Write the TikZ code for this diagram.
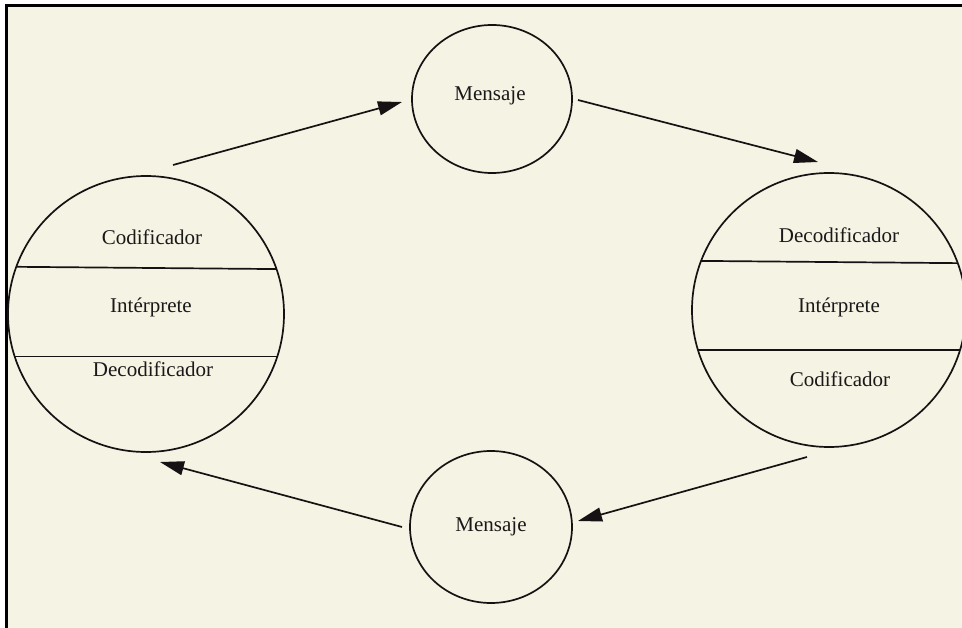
\documentclass[tikz,border=0pt]{standalone}
\usepackage{fontspec}
\setmainfont{Liberation Serif}
\usetikzlibrary{shapes.geometric,arrows.meta,calc}
\definecolor{paper}{RGB}{245,243,228}
\definecolor{ink}{RGB}{22,18,20}
\definecolor{type}{RGB}{26,24,24}
\begin{document}
\begin{tikzpicture}[x=1pt,y=-1pt,
  bubble/.style={draw=ink, line width=1.7pt, inner sep=0pt, outer sep=0pt},
  bigcircle/.style={bubble, circle, minimum size=#1},
  msgcircle/.style={bubble, ellipse, minimum width=#1},
  divider/.style={draw=ink, line width=1.7pt},
  word/.style={text=type, font=\fontsize{21}{25}\selectfont, inner sep=0pt, anchor=base},
  flow/.style={draw=ink, line width=1.7pt, -{Triangle[length=24pt,width=14pt]}}]
  % page
  \clip (0,0) rectangle (962,628);
  \fill[white] (0,0) rectangle (962,628);
  \fill[paper] (6,6) rectangle (962,628);
  \draw[black, line width=3pt] (6,629) -- (6,6) -- (963,6);

  % sender / receiver circles
  \node[bigcircle=276pt] (L) at (146,314) {};
  \node[bigcircle=274pt] (R) at (829,310) {};
  % message circles
  \node[msgcircle=160pt, minimum height=148pt] (M1) at (492,99) {};
  \node[msgcircle=162pt, minimum height=152pt] (M2) at (491,527) {};

  % dividers inside the large circles
  \draw[divider] (L.160.53) -- (L.19.47);
  \draw[divider] (L.198.16) -- (L.-18.16);
  \draw[divider] (R.159.49) -- (R.20.51);
  \draw[divider] (R.197.41) -- (R.-17.41);

  % texts
  \node[word] (l1) at (152,245) {Codificador};
  \node[word] (l2) at (151,313) {Intérprete};
  \node[word] (l3) at (153,377) {Decodificador};
  \node[word] (r1) at (839,243) {Decodificador};
  \node[word] (r2) at (839,313) {Intérprete};
  \node[word] (r3) at (840,387) {Codificador};
  \node[word] (m1) at (490,101) {Mensaje};
  \node[word] (m2) at (491,531) {Mensaje};

  % flow of the message
  \draw[flow] ($(L.north)+(27,-11)$) -- ($(M1.west)+(-10,3)$);
  \draw[flow] ($(M1.east)+(6,1)$) -- ($(R.north)+(-11,-11)$);
  \draw[flow] ($(R.south)+(-22,10)$) -- ($(M2.east)+(6,-6)$);
  \draw[flow] ($(M2.west)+(-8,0)$) -- ($(L.south)+(14,10)$);
\end{tikzpicture}
\end{document}
